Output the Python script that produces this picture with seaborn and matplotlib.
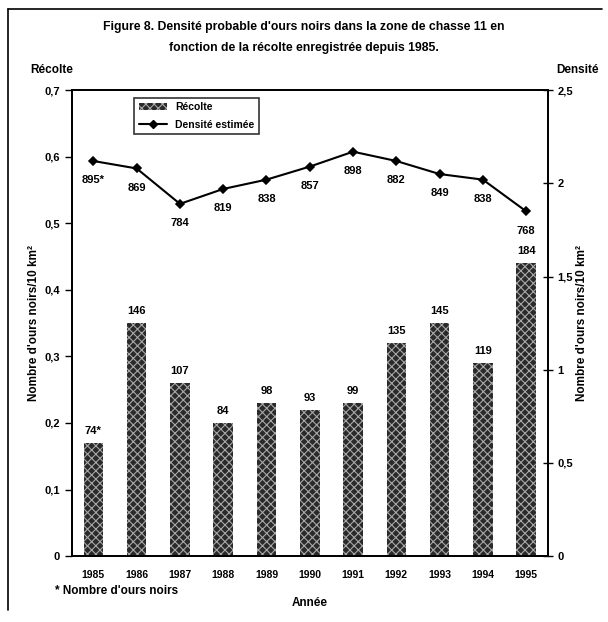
import pandas as pd
import seaborn as sns
import matplotlib.pyplot as plt
import numpy as np
from matplotlib.lines import Line2D
from matplotlib.patches import Patch

years = ['1985', '1986', '1987', '1988', '1989', '1990', '1991', '1992', '1993', '1994', '1995']
harvest_ratio = [0.17, 0.35, 0.26, 0.20, 0.23, 0.22, 0.23, 0.32, 0.35, 0.29, 0.44]
harvest_labels = ['74*', '146', '107', '84', '98', '93', '99', '135', '145', '119', '184']
density = [2.12, 2.08, 1.89, 1.97, 2.02, 2.09, 2.17, 2.12, 2.05, 2.02, 1.85]
density_labels = ['895*', '869', '784', '819', '838', '857', '898', '882', '849', '838', '768']

left_ticks = [0, 0.1, 0.2, 0.3, 0.4, 0.5, 0.6, 0.7]
left_ticklabels = ['0', '0,1', '0,2', '0,3', '0,4', '0,5', '0,6', '0,7']
right_ticks = [0, 0.5, 1, 1.5, 2, 2.5]
right_ticklabels = ['0', '0,5', '1', '1,5', '2', '2,5']

sns.set_style('white')
plt.rcParams['font.family'] = ['Liberation Sans', 'DejaVu Sans']
plt.rcParams['font.weight'] = 'bold'
plt.rcParams['hatch.linewidth'] = 0.8
for k in ['text.color', 'axes.labelcolor', 'xtick.color', 'ytick.color']:
    plt.rcParams[k] = 'black'

df = pd.DataFrame({'year': years, 'harvest': harvest_ratio, 'density': density})

fig = plt.figure(figsize=(6.08, 6.22), dpi=100)
ax = fig.add_axes([0.118, 0.106, 0.783, 0.749])

sns.barplot(data=df, x='year', y='harvest', order=years, ax=ax, width=0.45,
            color='#2a2a2a', edgecolor='#a0a0a0', linewidth=0, hatch='xxxx')
for p in ax.patches:
    p.set_hatch('xxxx')
    p.set_edgecolor('#a8a8a8')
    p.set_linewidth(0)
ax.bar_label(ax.containers[0], labels=harvest_labels, padding=5, fontsize=8, fontweight='bold')

ax.set_ylim(0, 0.7)
ax.set_xlim(-0.5, len(years) - 0.5)
ax.set_yticks(left_ticks)
ax.set_yticklabels(left_ticklabels, fontsize=8, fontweight='bold')
ax.set_xticks(range(len(years)))
ax.set_xticklabels(years, fontsize=7.5, fontweight='bold')
ax.set_xticks(np.arange(-0.5, len(years), 1), minor=True)
ax.tick_params(axis='x', which='major', length=0, pad=10)
ax.tick_params(axis='x', which='minor', length=5, direction='inout', width=1)
ax.tick_params(axis='y', length=5, direction='out', width=1)
ax.set_xlabel('Année', fontsize=8.5, fontweight='bold', labelpad=12)
ax.set_ylabel("Nombre d'ours noirs/10 km²", fontsize=8.5, fontweight='bold', labelpad=3)
for s in ax.spines.values():
    s.set_linewidth(1.3)
    s.set_color('black')

ax2 = ax.twinx()
sns.pointplot(data=df, x='year', y='density', order=years, ax=ax2, color='black',
              markers='D', markersize=4, linewidth=1.5)
ax2.set_ylim(0, 2.5)
ax2.set_yticks(right_ticks)
ax2.set_yticklabels(right_ticklabels, fontsize=8, fontweight='bold')
ax2.tick_params(axis='y', length=7, direction='inout', width=1)
ax2.set_ylabel("Nombre d'ours noirs/10 km²", fontsize=8.5, fontweight='bold',
               rotation=90, labelpad=2)
ax2.set_xlabel('')
for s in ax2.spines.values():
    s.set_linewidth(1.3)
    s.set_color('black')

for i, (v, lab) in enumerate(zip(density, density_labels)):
    ax2.annotate(lab, (i, v), xytext=(0, -14), textcoords='offset points',
                 ha='center', va='center', fontsize=8, fontweight='bold')

handles = [Patch(facecolor='#2a2a2a', edgecolor='#a8a8a8', hatch='xxxx', linewidth=0),
           Line2D([], [], color='black', marker='D', markersize=4, linewidth=1.5)]
leg = ax2.legend(handles, ['Récolte', 'Densité estimée'], loc='upper left',
                 bbox_to_anchor=(0.12, 0.995), fontsize=7.5, frameon=True, fancybox=False,
                 edgecolor='black', borderpad=0.45, handlelength=2.7, labelspacing=0.7)
leg.get_frame().set_linewidth(1.2)

fig.text(0.5, 0.952, "Figure 8. Densité probable d'ours noirs dans la zone de chasse 11 en",
         ha='center', fontsize=8.8, fontweight='bold')
fig.text(0.5, 0.918, "fonction de la récolte enregistrée depuis 1985.",
         ha='center', fontsize=8.8, fontweight='bold')
fig.text(0.05, 0.883, 'Récolte', fontsize=8.5, fontweight='bold')
fig.text(0.985, 0.883, 'Densité', ha='right', fontsize=8.5, fontweight='bold')
fig.text(0.09, 0.045, "* Nombre d'ours noirs", fontsize=8.5, fontweight='bold')

fig.add_artist(Line2D([0.013, 0.013], [0.02, 0.985], color='black', linewidth=1.2))
fig.add_artist(Line2D([0.013, 0.99], [0.985, 0.985], color='black', linewidth=1.2))

fig.savefig('out.png', dpi=100)
